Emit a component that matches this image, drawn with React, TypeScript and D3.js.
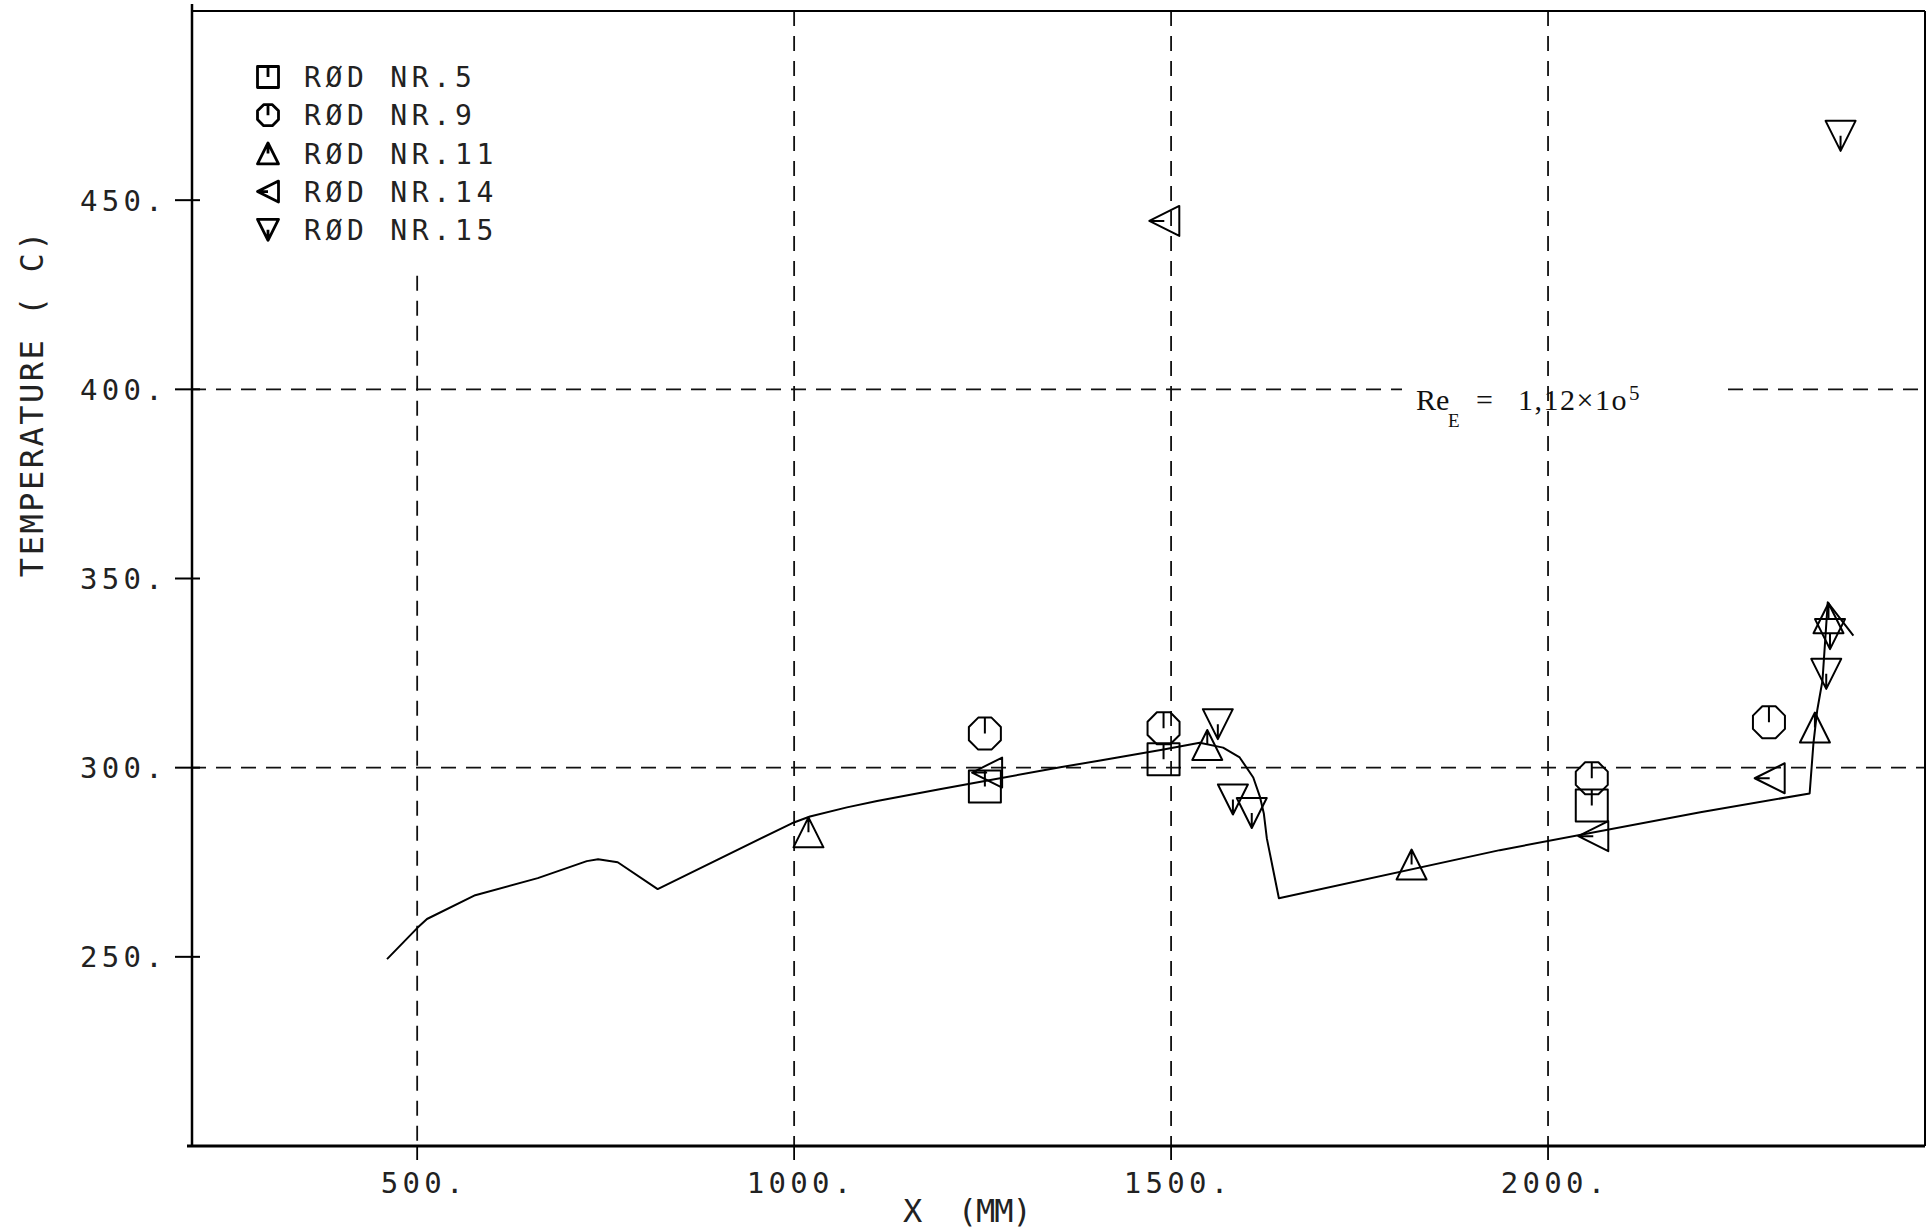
import React from "react";
import * as d3 from "d3";

const W = 1928;
const H = 1229;

// Calculated surface temperature profile along the bundle
const profileX = [460, 500, 513, 577, 660, 725, 740, 766, 819, 997, 1021, 1070, 1110, 1193, 1253, 1353, 1406, 1490, 1538, 1569, 1591, 1609, 1618, 1623, 1627, 1643, 1936, 2202, 2347, 2352, 2357, 2364, 2371, 2405];
const profileT = [249.4, 257.6, 260, 266.3, 270.8, 275.3, 275.8, 275, 267.9, 285.3, 287.1, 289.5, 291.2, 294.3, 296.5, 300.1, 301.9, 304.8, 306.6, 305.3, 302.7, 297.4, 292.2, 287.9, 281.3, 265.5, 278.2, 288.2, 293.2, 306.4, 315.1, 323, 343.7, 334.9];

// Measured thermocouple readings per rod
const rod5X = [1253, 1490, 2058];
const rod5T = [295, 302.2, 290];
const rod9X = [1253, 1490, 2058, 2293];
const rod9T = [309, 310.4, 297.2, 312];
const rod11X = [1019, 1548, 1819, 2354, 2372];
const rod11T = [282.9, 306, 274.4, 310.6, 339.5];
const rod14X = [1491, 1256, 2060, 2294];
const rod14T = [444.5, 298.7, 281.9, 297.2];
const rod15X = [2388, 1562, 1582, 1607, 2369, 2374];
const rod15T = [467, 311.5, 291.6, 288, 324.8, 335.3];

const rodNames = ["RØD NR.5", "RØD NR.9", "RØD NR.11", "RØD NR.14", "RØD NR.15"];
const rodSymbols = ["square", "circle", "up", "left", "down"];
const rodXs = [rod5X, rod9X, rod11X, rod14X, rod15X];
const rodTs = [rod5T, rod9T, rod11T, rod14T, rod15T];

const xTicks = [500, 1000, 1500, 2000];
const xTickLabels = ["500.", "1000.", "1500.", "2000."];
const yTicks = [250, 300, 350, 400, 450];
const yTickLabels = ["250.", "300.", "350.", "400.", "450."];
const hGridValues = [300, 400];

const xDomain = [200, 2500];
const tDomain = [200, 500];

const PLOT = { left: 191, right: 1925, top: 11, bottom: 1146 };

function symbolPath(kind: string, cx: number, cy: number, s: number): string {
  switch (kind) {
    case "square":
      return `M${cx - s},${cy - s}H${cx + s}V${cy + s}H${cx - s}Z M${cx},${cy - s}V${cy}`;
    case "circle": {
      const R = s / Math.cos(Math.PI / 8);
      const pts = d3.range(8).map((k) => {
        const a = Math.PI / 8 + (k * Math.PI) / 4;
        return [cx + R * Math.cos(a), cy + R * Math.sin(a)];
      });
      return "M" + pts.map((p) => p.join(",")).join("L") + `Z M${cx},${cy - s}V${cy}`;
    }
    case "up":
      return `M${cx},${cy - s}L${cx + s},${cy + s}L${cx - s},${cy + s}Z M${cx},${cy - s}V${cy}`;
    case "down":
      return `M${cx - s},${cy - s}L${cx + s},${cy - s}L${cx},${cy + s}Z M${cx},${cy}V${cy + s}`;
    case "left":
      return `M${cx - s},${cy}L${cx + s},${cy - s}L${cx + s},${cy + s}Z M${cx - s},${cy}H${cx}`;
    default:
      return "";
  }
}

const mono = "'DejaVu Sans Mono', monospace";
const tickFont = 29;
const tickSpacing = 4.3;

export default function App() {
  const x = d3.scaleLinear().domain(xDomain).range([PLOT.left, PLOT.right]);
  const y = d3.scaleLinear().domain(tDomain).range([PLOT.bottom, PLOT.top]);

  const profile = d3
    .line<number>()
    .x((_, i) => x(profileX[i]))
    .y((_, i) => y(profileT[i]))(profileX) as string;

  const dash = "15 10";
  // the Reynolds-number annotation interrupts the 400 C grid line
  const labelGap = [1402, 1728];

  return (
    <svg
      width={W}
      height={H}
      style={{ position: "absolute", left: 0, top: 0, display: "block", background: "#fff" }}
    >
      <rect x={0} y={0} width={W} height={H} fill="#fff" />

      {/* vertical grid lines */}
      {xTicks.map((v, i) => (
        <line
          key={"vg" + v}
          x1={x(v)}
          x2={x(v)}
          y1={i === 0 ? y(430) : PLOT.top}
          y2={PLOT.bottom}
          stroke="#111"
          strokeWidth={1.8}
          strokeDasharray={dash}
        />
      ))}
      {/* horizontal grid lines */}
      {hGridValues.map((v) =>
        v === 400 ? (
          <g key={"hg" + v}>
            <line x1={PLOT.left} x2={labelGap[0]} y1={y(v)} y2={y(v)} stroke="#111" strokeWidth={1.8} strokeDasharray={dash} />
            <line x1={labelGap[1]} x2={PLOT.right} y1={y(v)} y2={y(v)} stroke="#111" strokeWidth={1.8} strokeDasharray={dash} />
          </g>
        ) : (
          <line key={"hg" + v} x1={PLOT.left} x2={PLOT.right} y1={y(v)} y2={y(v)} stroke="#111" strokeWidth={1.8} strokeDasharray={dash} />
        )
      )}

      {/* frame */}
      <line x1={PLOT.left + 1} x2={PLOT.left + 1} y1={4} y2={PLOT.bottom} stroke="#000" strokeWidth={2.5} />
      <line x1={187} x2={PLOT.right} y1={PLOT.bottom} y2={PLOT.bottom} stroke="#000" strokeWidth={3} />
      <line x1={PLOT.left} x2={PLOT.right} y1={PLOT.top} y2={PLOT.top} stroke="#000" strokeWidth={2} />
      <line x1={PLOT.right} x2={PLOT.right} y1={PLOT.top} y2={PLOT.bottom} stroke="#000" strokeWidth={2} />

      {/* y ticks and labels */}
      {yTicks.map((v, i) => (
        <g key={"yt" + v}>
          <line x1={175} x2={200} y1={y(v)} y2={y(v)} stroke="#000" strokeWidth={2} />
          <text
            x={167}
            y={y(v) + 10.5}
            textAnchor="end"
            fontFamily={mono}
            fontSize={tickFont}
            letterSpacing={tickSpacing}
            fill="#222"
          >
            {yTickLabels[i]}
          </text>
        </g>
      ))}

      {/* x ticks and labels */}
      {xTicks.map((v, i) => (
        <g key={"xt" + v}>
          <line x1={x(v)} x2={x(v)} y1={PLOT.bottom} y2={1160} stroke="#000" strokeWidth={1.8} />
          <text
            x={x(v) + 7}
            y={1193}
            textAnchor="middle"
            fontFamily={mono}
            fontSize={tickFont}
            letterSpacing={tickSpacing}
            fill="#222"
          >
            {xTickLabels[i]}
          </text>
        </g>
      ))}

      {/* axis titles */}
      <text x={903} y={1222} fontFamily={mono} fontSize={32} letterSpacing={-1} fill="#222" xmlSpace="preserve">
        {"X  (MM)"}
      </text>
      <text
        transform="translate(43,403) rotate(-90)"
        textAnchor="middle"
        fontFamily={mono}
        fontSize={32}
        letterSpacing={2.5}
        fill="#222"
        xmlSpace="preserve"
      >
        {"TEMPERATURE ( C)"}
      </text>

      {/* Reynolds number annotation */}
      <text fontFamily="'Liberation Serif', serif" fill="#111">
        <tspan x={1416} y={410} fontSize={30}>Re</tspan>
        <tspan x={1448} y={427} fontSize={19}>E</tspan>
        <tspan x={1476} y={410} fontSize={30}>=</tspan>
        <tspan x={1518} y={410} fontSize={30} letterSpacing={1.5}>1,12×1o</tspan>
        <tspan x={1629} y={400} fontSize={21}>5</tspan>
      </text>

      {/* calculated profile */}
      <path d={profile} fill="none" stroke="#000" strokeWidth={2} strokeLinejoin="round" />

      {/* measured points */}
      {rodXs.map((xs, r) =>
        xs.map((xv, j) => (
          <path
            key={`m${r}-${j}`}
            d={symbolPath(rodSymbols[r], x(xv), y(rodTs[r][j]), rodSymbols[r] === "square" || rodSymbols[r] === "circle" ? 16 : 15)}
            fill="none"
            stroke="#000"
            strokeWidth={2}
            strokeLinejoin="round"
          />
        ))
      )}

      {/* legend */}
      {rodNames.map((name, i) => {
        const cy = 77 + i * 38.2;
        return (
          <g key={"lg" + i}>
            <path d={symbolPath(rodSymbols[i], 268, cy, 10.5)} fill="none" stroke="#000" strokeWidth={2.8} strokeLinejoin="round" />
            <text x={304} y={cy + 10.2} fontFamily={mono} fontSize={28} letterSpacing={4.7} fill="#222">
              {name}
            </text>
          </g>
        );
      })}
    </svg>
  );
}
